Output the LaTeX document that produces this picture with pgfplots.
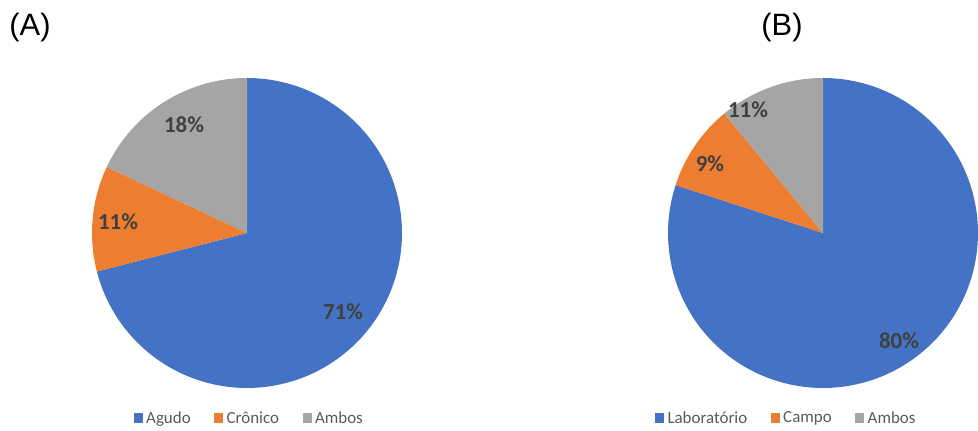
\documentclass[border=0pt]{standalone}
\usepackage{pgfplots}
\pgfplotsset{compat=1.18}
\usepackage{fontspec}
\setmainfont{Carlito}
\newfontfamily\arialfont{Liberation Sans}
\definecolor{cblue}{HTML}{4472C4}
\definecolor{corange}{HTML}{ED7D31}
\definecolor{cgray}{HTML}{A5A5A5}
\definecolor{ctext}{HTML}{404040}
\definecolor{clegend}{HTML}{595959}
% percentages
\def\pAa{71}\def\pAb{11}\def\pAc{18}
\def\pBa{80}\def\pBb{9}\def\pBc{11}
\pgfmathsetmacro{\Aone}{90-3.6*\pAa}
\pgfmathsetmacro{\Atwo}{\Aone-3.6*\pAb}
\pgfmathsetmacro{\Athree}{\Atwo-3.6*\pAc}
\pgfmathsetmacro{\Bone}{90-3.6*\pBa}
\pgfmathsetmacro{\Btwo}{\Bone-3.6*\pBb}
\pgfmathsetmacro{\Bthree}{\Btwo-3.6*\pBc}
\newcommand{\legfont}{\fontsize{17}{19}\selectfont}
\newcommand{\labfont}{\bfseries\fontsize{23}{26}\selectfont}
\pgfplotsset{
  pieaxis/.style={
    scale only axis, width=489bp, height=431bp,
    ymin=0, ymax=431, hide axis,
    legend columns=3,
    legend style={draw=none, fill=none, font=\legfont, text=clegend,
      nodes={font=\legfont, text=clegend, inner xsep=3.5bp},
      anchor=center, /tikz/every even column/.append style={column sep=20bp}},
    legend image code/.code={\fill[##1] (0bp,-4.5bp) rectangle (9bp,4.5bp);},
  },
}
\begin{document}
\begin{tikzpicture}
\begin{axis}[pieaxis, xmin=0, xmax=489, at={(0bp,0bp)}, anchor=origin,
  legend style={at={(axis cs:250,13)}}]
\addplot[draw=none, fill=cblue, domain=90:\Aone, samples=120, variable=\t]
  ({247+155*cos(\t)},{198+155*sin(\t)}) -- (axis cs:247,198) -- cycle;
\addlegendentry{Agudo}
\addplot[draw=none, fill=corange, domain=\Aone:\Atwo, samples=40, variable=\t]
  ({247+155*cos(\t)},{198+155*sin(\t)}) -- (axis cs:247,198) -- cycle;
\addlegendentry{Crônico}
\addplot[draw=none, fill=cgray, domain=\Atwo:\Athree, samples=60, variable=\t]
  ({247+155*cos(\t)},{198+155*sin(\t)}) -- (axis cs:247,198) -- cycle;
\addlegendentry{Ambos}
\node[text=ctext, font=\labfont] at (axis cs:343,119) {\pAa\%};
\node[text=ctext, font=\labfont] at (axis cs:118,209) {\pAb\%};
\node[text=ctext, font=\labfont] at (axis cs:184,306) {\pAc\%};
\node[font=\arialfont\fontsize{31}{34}\selectfont] at (axis cs:30,403) {(A)};
\end{axis}
\begin{axis}[pieaxis, xmin=489, xmax=978, at={(489bp,0bp)}, anchor=origin,
  legend style={at={(axis cs:787,13)}}]
\addplot[draw=none, fill=cblue, domain=90:\Bone, samples=120, variable=\t]
  ({823+155*cos(\t)},{198+155*sin(\t)}) -- (axis cs:823,198) -- cycle;
\addlegendentry{Laboratório}
\addplot[draw=none, fill=corange, domain=\Bone:\Btwo, samples=40, variable=\t]
  ({823+155*cos(\t)},{198+155*sin(\t)}) -- (axis cs:823,198) -- cycle;
\addlegendentry{Campo}
\addplot[draw=none, fill=cgray, domain=\Btwo:\Bthree, samples=40, variable=\t]
  ({823+155*cos(\t)},{198+155*sin(\t)}) -- (axis cs:823,198) -- cycle;
\addlegendentry{Ambos}
\node[text=ctext, font=\labfont] at (axis cs:899,90) {\pBa\%};
\node[text=ctext, font=\labfont] at (axis cs:710,267) {\pBb\%};
\node[text=ctext, font=\labfont] at (axis cs:748,321) {\pBc\%};
\node[font=\arialfont\fontsize{31}{34}\selectfont] at (axis cs:782,403) {(B)};
\end{axis}
\pgfresetboundingbox
\useasboundingbox (0bp,0bp) rectangle (978bp,431bp);
\end{tikzpicture}
\end{document}
